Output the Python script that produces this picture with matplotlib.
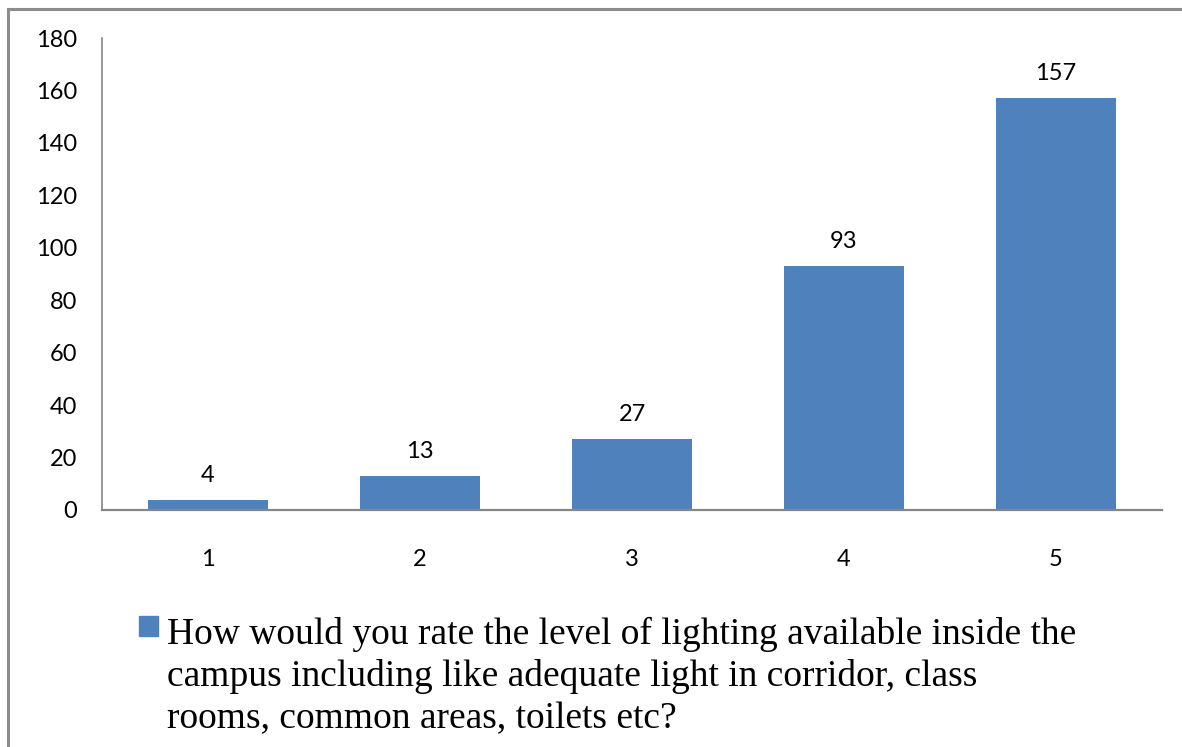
import matplotlib.pyplot as plt
from matplotlib.lines import Line2D
from matplotlib.patches import Rectangle

categories = ["1", "2", "3", "4", "5"]
counts = [4, 13, 27, 93, 157]
yticks = [0, 20, 40, 60, 80, 100, 120, 140, 160, 180]
legend_label = ("How would you rate the level of lighting available inside the\n"
                "campus including like adequate light in corridor, class\n"
                "rooms, common areas, toilets etc?")

bar_color = "#4F81BD"
axis_color = "#868686"

fig = plt.figure(figsize=(11.82, 7.47), dpi=100)
ax = fig.add_axes([102 / 1182, 1 - 510 / 747, 1060 / 1182, 472 / 747])

x = range(len(categories))
bars = ax.bar(x, counts, width=0.57, color=bar_color)
ax.bar_label(bars, labels=[str(v) for v in counts], padding=10,
             fontsize=17, family="Lato", color="#000000")

ax.set_xlim(-0.5, len(categories) - 0.5)
ax.set_ylim(0, 180)
ax.set_yticks(yticks)
ax.set_xticks(list(x))
ax.set_xticklabels(categories)
ax.tick_params(axis="both", length=0, labelsize=17)
ax.tick_params(axis="y", pad=18)
ax.tick_params(axis="x", pad=28)
for lab in ax.get_xticklabels() + ax.get_yticklabels():
    lab.set_family("Lato")

for side in ["top", "right"]:
    ax.spines[side].set_visible(False)
ax.spines["left"].set_color(axis_color)
ax.spines["left"].set_linewidth(1.2)
ax.spines["bottom"].set_color(axis_color)
ax.spines["bottom"].set_linewidth(1.6)

# legend drawn by hand: square marker and wrapped label
fig.patches.append(Rectangle((139 / 1182, 1 - 636 / 747), 19 / 1182, 20 / 747,
                             transform=fig.transFigure, color=bar_color))
# baseline alignment applies to the last line here
fig.text(167 / 1182, 1 - 728 / 747, legend_label, family="Liberation Serif",
         fontsize=27, va="baseline", ha="left", linespacing=1.27)

# outer chart border (left and top only visible)
fig.lines.append(Line2D([8 / 1182, 8 / 1182], [0, 1 - 9 / 747],
                        transform=fig.transFigure, color="#8c8c8c", lw=2.2))
fig.lines.append(Line2D([8 / 1182, 1], [1 - 9 / 747, 1 - 9 / 747],
                        transform=fig.transFigure, color="#8c8c8c", lw=2.2))

fig.savefig("out.png", dpi=100)
